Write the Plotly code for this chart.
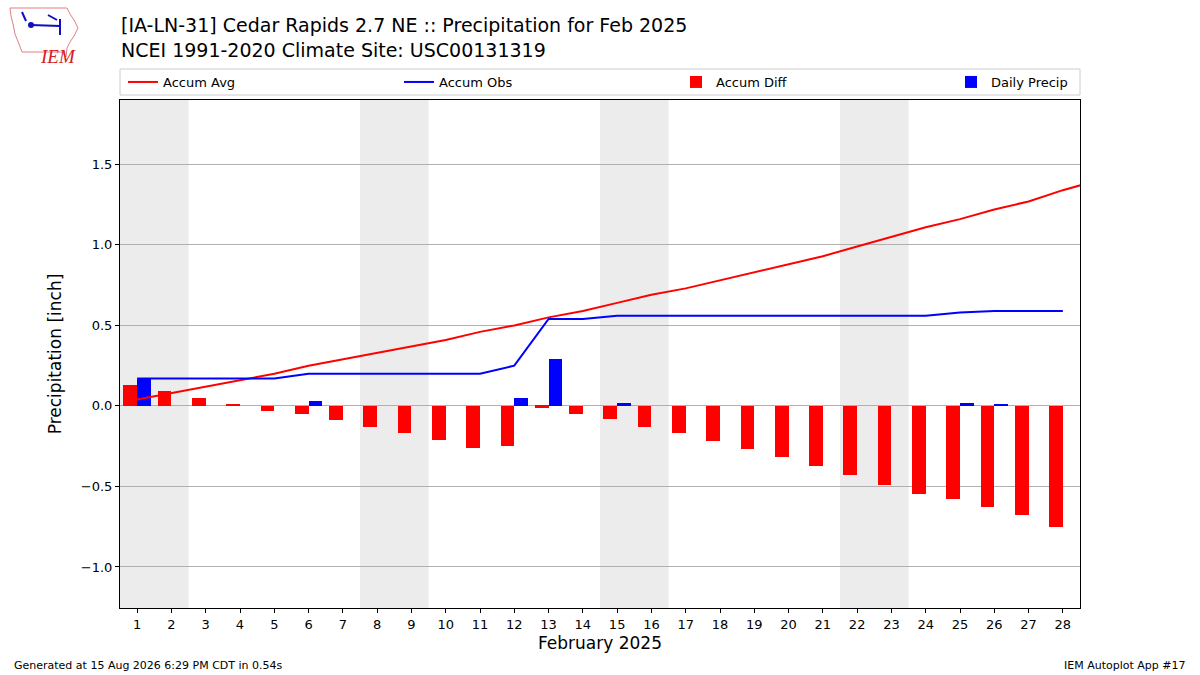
import plotly.graph_objects as go

# daily data for Feb 2025, Cedar Rapids 2.7 NE
days = list(range(1, 29))
accum_avg = [0.04, 0.08, 0.12, 0.16, 0.20, 0.25, 0.29, 0.33, 0.37, 0.41,
             0.46, 0.50, 0.55, 0.59, 0.64, 0.69, 0.73, 0.78, 0.83, 0.88,
             0.93, 0.99, 1.05, 1.11, 1.16, 1.22, 1.27, 1.34, 1.40]  # last one is Mar 1
avg_days = list(range(1, 30))
accum_obs = [0.17, 0.17, 0.17, 0.17, 0.17, 0.20, 0.20, 0.20, 0.20, 0.20,
             0.20, 0.25, 0.54, 0.54, 0.56, 0.56, 0.56, 0.56, 0.56, 0.56,
             0.56, 0.56, 0.56, 0.56, 0.58, 0.59, 0.59, 0.59]
accum_diff = [0.13, 0.09, 0.05, 0.01, -0.03, -0.05, -0.09, -0.13, -0.17, -0.21,
              -0.26, -0.25, -0.01, -0.05, -0.08, -0.13, -0.17, -0.22, -0.27, -0.32,
              -0.37, -0.43, -0.49, -0.55, -0.58, -0.63, -0.68, -0.75]
daily_precip = [0.17, 0, 0, 0, 0, 0.03, 0, 0, 0, 0,
                0, 0.05, 0.29, 0, 0.02, 0, 0, 0, 0, 0,
                0, 0, 0, 0, 0.02, 0.01, 0, 0]
weekend_starts = [1, 8, 15, 22]  # saturdays
yticks = [-1.0, -0.5, 0.0, 0.5, 1.0, 1.5]

W, H = 1200, 675
L, R, T, B = 120, 120, 100, 67
PW, PH = W - L - R, H - T - B


def px(x):
    return (x - L) / PW


def py(y):
    return (H - B - y) / PH


font = "DejaVu Sans"
fig = go.Figure()

fig.add_trace(go.Bar(x=days, y=accum_diff, width=0.4, offset=-0.4,
                     marker=dict(color="#ff0000", line_width=0),
                     name="Accum Diff", legend="legend3"))
fig.add_trace(go.Bar(x=days, y=daily_precip, width=0.4, offset=0,
                     marker=dict(color="#0000ff", line_width=0),
                     name="Daily Precip", legend="legend4"))
fig.add_trace(go.Scatter(x=avg_days, y=accum_avg, mode="lines",
                         line=dict(color="#ff0000", width=2),
                         name="Accum Avg", legend="legend"))
fig.add_trace(go.Scatter(x=days, y=accum_obs, mode="lines",
                         line=dict(color="#0000ff", width=2),
                         name="Accum Obs", legend="legend2"))

# weekend shading
for d in weekend_starts:
    fig.add_vrect(x0=d - 0.5, x1=d + 1.5, fillcolor="#ececec", line_width=0, layer="below")

# legend frame
fig.add_shape(type="rect", xref="paper", yref="paper", x0=px(120), x1=px(1080),
              y0=py(95), y1=py(69), line=dict(color="#cccccc", width=1), fillcolor="white",
              layer="below")

leg = dict(orientation="v", yanchor="middle", y=py(82), xanchor="left",
           bgcolor="rgba(0,0,0,0)", borderwidth=0, font=dict(family=font, size=13, color="black"))
fig.update_layout(
    showlegend=True,
    legend=dict(leg, x=px(123)),
    legend2=dict(leg, x=px(399)),
    legend3=dict(leg, x=px(676)),
    legend4=dict(leg, x=px(951)),
)

# IEM logo (rough outline of Iowa + station glyph)
iowa = [(10, 8), (67, 8), (70, 14), (74, 20), (78, 28), (74, 36), (70, 42), (67, 48),
        (66, 57), (62, 52), (22, 52), (19, 44), (15, 34), (13, 24), (11, 16)]
path = "M " + " L ".join(f"{px(a)},{py(b)}" for a, b in iowa) + " Z"
fig.add_shape(type="path", xref="paper", yref="paper", path=path,
              line=dict(color="#e08080", width=1))
blue = "#1010c0"
for (a0, b0, a1, b1) in [(31, 25, 60, 26), (60, 19, 60, 35), (22, 12, 26, 21), (48, 15, 57, 20)]:
    fig.add_shape(type="line", xref="paper", yref="paper", x0=px(a0), y0=py(b0), x1=px(a1), y1=py(b1),
                  line=dict(color=blue, width=2))
fig.add_shape(type="circle", xref="paper", yref="paper", x0=px(28), x1=px(34), y0=py(22), y1=py(28),
              fillcolor=blue, line_width=0)
fig.add_annotation(text="<i>IEM</i>", xref="paper", yref="paper", x=px(38), y=py(44),
                   showarrow=False, font=dict(family="Liberation Serif", size=19, color="#d42020"))

# titles
fig.add_annotation(text="[IA-LN-31] Cedar Rapids 2.7 NE :: Precipitation for Feb 2025<br>"
                        "NCEI 1991-2020 Climate Site: USC00131319",
                   xref="paper", yref="paper", x=px(119), y=py(12), xanchor="left", yanchor="top",
                   align="left", showarrow=False, font=dict(family=font, size=19, color="black"))
fig.add_annotation(text="Generated at 15 Aug 2026 6:29 PM CDT in 0.54s", xref="paper", yref="paper",
                   x=px(12), y=py(665), xanchor="left", yanchor="middle", showarrow=False,
                   font=dict(family=font, size=11, color="black"))
fig.add_annotation(text="IEM Autoplot App #17", xref="paper", yref="paper",
                   x=px(1188), y=py(665), xanchor="right", yanchor="middle", showarrow=False,
                   font=dict(family=font, size=11, color="black"))

fig.update_layout(
    width=W, height=H, margin=dict(l=L, r=R, t=T, b=B),
    paper_bgcolor="white", plot_bgcolor="white",
    barmode="overlay", bargap=0,
    font=dict(family=font, size=13, color="black"),
    xaxis=dict(range=[0.5, 28.5], tickmode="array", tickvals=days,
               ticktext=[str(d) for d in days], showgrid=False, zeroline=False,
               showline=True, linecolor="black", mirror=True, ticks="outside",
               ticklen=4, tickcolor="black",
               title=dict(text="February 2025", font=dict(size=17), standoff=6)),
    yaxis=dict(range=[-1.255, 1.90], tickmode="array", tickvals=yticks,
               ticktext=[f"{v:.1f}".replace("-", "\u2212") for v in yticks],
               showgrid=True, gridcolor="#b0b0b0",
               zeroline=False, showline=True, linecolor="black", mirror=True,
               ticks="outside", ticklen=4, tickcolor="black",
               title=dict(text="Precipitation [inch]", font=dict(size=17), standoff=14)),
)
fig.update_traces(cliponaxis=True)

fig.write_html("out.html", config={"displayModeBar": False},
               post_script="document.body.style.margin='0';")
